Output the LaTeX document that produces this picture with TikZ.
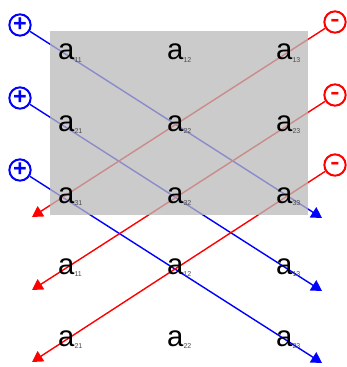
\documentclass[tikz,border=0pt]{standalone}
\usepackage{fontspec}
\usepackage{graphicx}
\setmainfont{Liberation Sans}
\usetikzlibrary{arrows.meta}
\pgfdeclarelayer{lines}
\pgfdeclarelayer{shade}
\pgfsetlayers{lines,shade,main}
\newcommand{\entry}[1]{{\fontsize{25}{25}\selectfont a}\raisebox{-0.6mm}{\fontsize{6}{6}\selectfont\color{black!70}#1}}

\begin{document}
\begin{tikzpicture}[
  x=0.03cm, y=-0.03cm,
  elem/.style={anchor=base west, inner sep=0pt},
  plus/.style={draw=blue, circle, line width=1.7pt, minimum size=0.64cm, inner sep=0pt, text=blue,
    font=\bfseries\fontsize{20}{20}\selectfont},
  minus/.style={plus, draw=red, text=red},
  bline/.style={blue, line width=1.2pt, -{Triangle[length=0.32cm, width=0.36cm]}},
  rline/.style={bline, red}
]
  \useasboundingbox (0,0) rectangle (347,367);
  % matrix entries
  \node[elem] (a11) at (58,60) {\entry{11}};
  \node[elem] (a12) at (167,60) {\entry{12}};
  \node[elem] (a13) at (276,60) {\entry{13}};
  \node[elem] (a21) at (58,131) {\entry{21}};
  \node[elem] (a22) at (167,131) {\entry{22}};
  \node[elem] (a23) at (276,131) {\entry{23}};
  \node[elem] (a31) at (58,203) {\entry{31}};
  \node[elem] (a32) at (167,203) {\entry{32}};
  \node[elem] (a33) at (276,203) {\entry{33}};
  % repeated rows
  \node[elem] (b11) at (58,274) {\entry{11}};
  \node[elem] (b12) at (167,274) {\entry{12}};
  \node[elem] (b13) at (276,274) {\entry{13}};
  \node[elem] (b21) at (58,346) {\entry{21}};
  \node[elem] (b22) at (167,346) {\entry{22}};
  \node[elem] (b23) at (276,346) {\entry{23}};
  % signs
  \node[plus] (p1) at (20,25) {+};
  \node[plus] (p2) at (20,98) {+};
  \node[plus] (p3) at (20,170) {+};
  \node[minus] (m1) at (335,22) {\vphantom{+}\scalebox{0.6}[1]{−}};
  \node[minus] (m2) at (335,95) {\vphantom{+}\scalebox{0.6}[1]{−}};
  \node[minus] (m3) at (335,165) {\vphantom{+}\scalebox{0.6}[1]{−}};
  \coordinate (pe1) at (322,218);
  \coordinate (pe2) at (322,291);
  \coordinate (pe3) at (322,363);
  \coordinate (me1) at (32,217);
  \coordinate (me2) at (32,290);
  \coordinate (me3) at (32,362);
  \begin{pgfonlayer}{shade}
    \fill[black!27, fill opacity=0.75] (50,31) rectangle (308,215);
  \end{pgfonlayer}
  \begin{pgfonlayer}{lines}
    \draw[bline] (p1) -- (pe1);
    \draw[bline] (p2) -- (pe2);
    \draw[bline] (p3) -- (pe3);
    \draw[rline] (m1) -- (me1);
    \draw[rline] (m2) -- (me2);
    \draw[rline] (m3) -- (me3);
  \end{pgfonlayer}
\end{tikzpicture}
\end{document}
